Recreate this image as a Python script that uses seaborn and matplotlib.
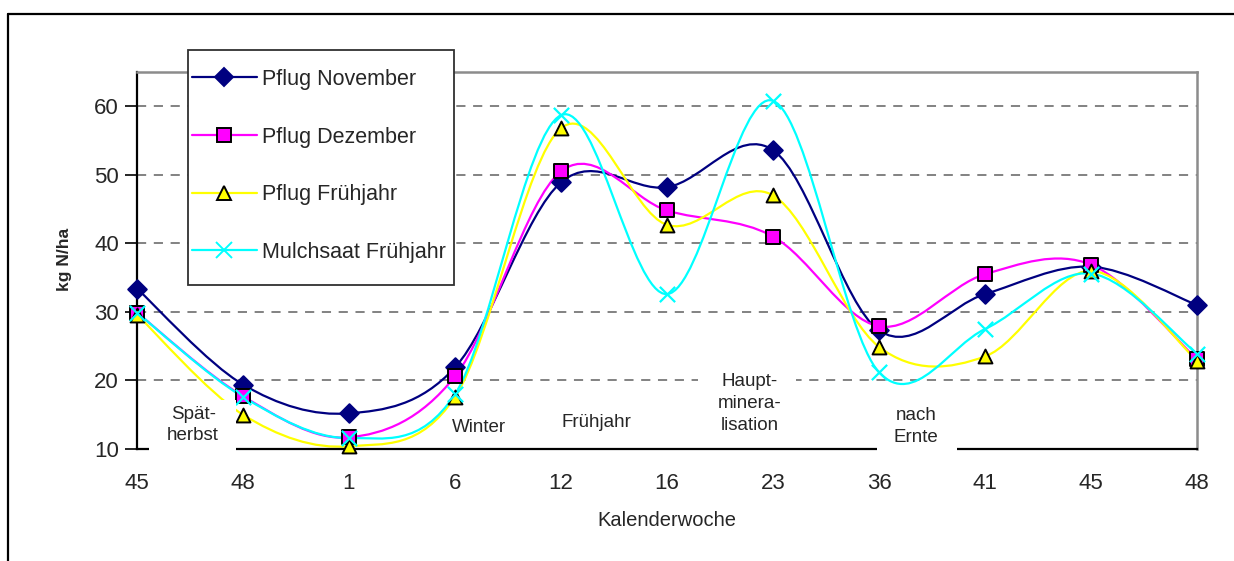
import numpy as np
import pandas as pd
import matplotlib
matplotlib.use("Agg")
import matplotlib.pyplot as plt
from matplotlib.path import Path
from matplotlib.patches import PathPatch, Rectangle
from matplotlib.lines import Line2D
import seaborn as sns

# ---------------- data ----------------
weeks = ["45", "48", "1", "6", "12", "16", "23", "36", "41", "45", "48"]
pflug_november = [33.4, 19.4, 15.2, 21.9, 48.9, 48.2, 53.6, 27.3, 32.6, 36.6, 31.0]
pflug_dezember = [29.9, 17.7, 11.7, 20.6, 50.5, 44.8, 41.0, 27.9, 35.5, 36.9, 23.1]
pflug_fruehjahr = [29.6, 15.0, 10.4, 17.6, 56.8, 42.7, 47.0, 24.9, 23.5, 36.0, 22.9]
mulchsaat_fruehjahr = [29.9, 17.6, 11.6, 18.0, 58.7, 32.6, 60.8, 21.2, 27.5, 35.6, 23.9]
series_names = ["Pflug November", "Pflug Dezember", "Pflug Frühjahr", "Mulchsaat Frühjahr"]
phase_labels = ["Spät-\nherbst", "Winter", "Frühjahr", "Haupt-\nminera-\nlisation", "nach\nErnte"]

# ---------------- styles ----------------
colors = ["#000080", "#FF00FF", "#FFFF00", "#00FFFF"]
markers = ["D", "s", "^", "x"]
msizes = [9.5, 10, 10, 11]
medge = ["#000080", "black", "black", "#00FFFF"]

sns.set_theme(style="white")
plt.rcParams["font.family"] = ["Liberation Sans", "DejaVu Sans"]

W, H = 1234, 561
fig = plt.figure(figsize=(W / 100, H / 100), dpi=100)
ax = fig.add_axes([137 / W, 1 - 449 / H, (1197 - 137) / W, (449 - 72) / H])

values = [pflug_november, pflug_dezember, pflug_fruehjahr, mulchsaat_fruehjahr]
n = len(weeks)
xs = np.arange(n)
frames = []
for name, vals in zip(series_names, values):
    frames.append(pd.DataFrame({"x": xs, "y": vals, "Serie": name}))
df = pd.concat(frames, ignore_index=True)


def smooth_path(x, y):
    """Excel-style smoothed line: cubic Bezier through the data points."""
    x = np.asarray(x, float)
    y = np.asarray(y, float)
    px = np.concatenate([[x[0]], x, [x[-1]]])
    py = np.concatenate([[y[0]], y, [y[-1]]])
    verts = [(x[0], y[0])]
    codes = [Path.MOVETO]
    for i in range(1, len(x)):
        p0 = np.array([px[i - 1], py[i - 1]])
        p1 = np.array([px[i], py[i]])
        p2 = np.array([px[i + 1], py[i + 1]])
        p3 = np.array([px[i + 2], py[i + 2]])
        c1 = p1 + (p2 - p0) / 6.0
        c2 = p2 - (p3 - p1) / 6.0
        verts += [tuple(c1), tuple(c2), tuple(p2)]
        codes += [Path.CURVE4] * 3
    return Path(verts, codes)


for i, name in enumerate(series_names):
    sub = df[df["Serie"] == name]
    patch = PathPatch(smooth_path(sub["x"], sub["y"]), facecolor="none",
                      edgecolor=colors[i], lw=1.6, zorder=2 + i * 0.01)
    ax.add_patch(patch)

for i, name in enumerate(series_names):
    sub = df[df["Serie"] == name]
    sns.scatterplot(data=sub, x="x", y="y", ax=ax, marker=markers[i],
                    s=msizes[i] ** 2, color=colors[i],
                    edgecolor=medge[i] if markers[i] != "x" else None,
                    linewidth=1.4 if markers[i] != "x" else 1.6,
                    zorder=3 + i * 0.01, legend=False, clip_on=False)

ax.set_xlim(0, n - 1)
ax.set_ylim(10, 65)
ax.set_xticks(xs)
ax.set_xticklabels(weeks)
ax.set_yticks([10, 20, 30, 40, 50, 60])
ax.tick_params(axis="x", direction="inout", length=10, width=1.2, color="black",
               labelsize=16, pad=12.5)
ax.tick_params(axis="y", direction="out", length=9, width=1.2, color="black",
               labelsize=16, pad=4, left=True)
for y in [20, 30, 40, 50, 60]:
    ax.axhline(y, color="#606060", lw=1.1, ls=(0, (6, 5)), zorder=1)
for s in ["left", "bottom"]:
    ax.spines[s].set_color("black")
    ax.spines[s].set_linewidth(1.6)
for s in ["top", "right"]:
    ax.spines[s].set_color("#8c8c8c")
    ax.spines[s].set_linewidth(1.8)
ax.set_xlabel("Kalenderwoche", fontsize=14.5, labelpad=12)
ax.set_ylabel("")
fig.text(64 / W, 1 - 259 / H, "kg N/ha", rotation=90, fontsize=12.5,
         fontweight="bold", ha="center", va="center")

# white boxes behind phase labels
boxes = [(0.11, 9.6, 0.82, 7.5), (5.29, 10.4, 0.93, 10.7), (6.985, 9.6, 0.75, 7.4)]
for bx, by, bw, bh in boxes:
    ax.add_patch(Rectangle((bx, by), bw, bh, facecolor="white", edgecolor="none",
                           zorder=4, clip_on=False))
label_pos = [(0.53, 13.5), (3.23, 13.2), (4.33, 13.8), (5.78, 16.6), (7.35, 13.3)]
for txt, (tx, ty) in zip(phase_labels, label_pos):
    ax.text(tx, ty, txt, ha="center", va="center", fontsize=13.5,
            linespacing=1.38, zorder=5)

# legend with white box
fig.add_artist(Rectangle((188 / W, 1 - 285 / H), (454 - 188) / W, (285 - 50) / H,
                         transform=fig.transFigure, facecolor="white",
                         edgecolor="#303030", lw=1.3, zorder=5))
handles = [Line2D([0], [0], color=colors[i], lw=1.6, marker=markers[i],
                  markersize=msizes[i], markerfacecolor=colors[i],
                  markeredgecolor=medge[i], markeredgewidth=1.4)
           for i in range(4)]
leg = fig.legend(handles, series_names, loc="upper left",
                 bbox_to_anchor=(192 / W, 1 - 69 / H), frameon=False,
                 fontsize=15.5, handlelength=3.0, handletextpad=0.25,
                 labelspacing=1.7, borderpad=0, borderaxespad=0)
leg.set_zorder(6)

# outer chart frame (left and top edges visible)
fig.add_artist(Line2D([8 / W, 8 / W], [0, 1 - 14 / H], transform=fig.transFigure,
                      color="black", lw=1.6))
fig.add_artist(Line2D([8 / W, 1], [1 - 14 / H, 1 - 14 / H], transform=fig.transFigure,
                      color="black", lw=1.6))

fig.savefig("out.png", dpi=100, facecolor="white")
